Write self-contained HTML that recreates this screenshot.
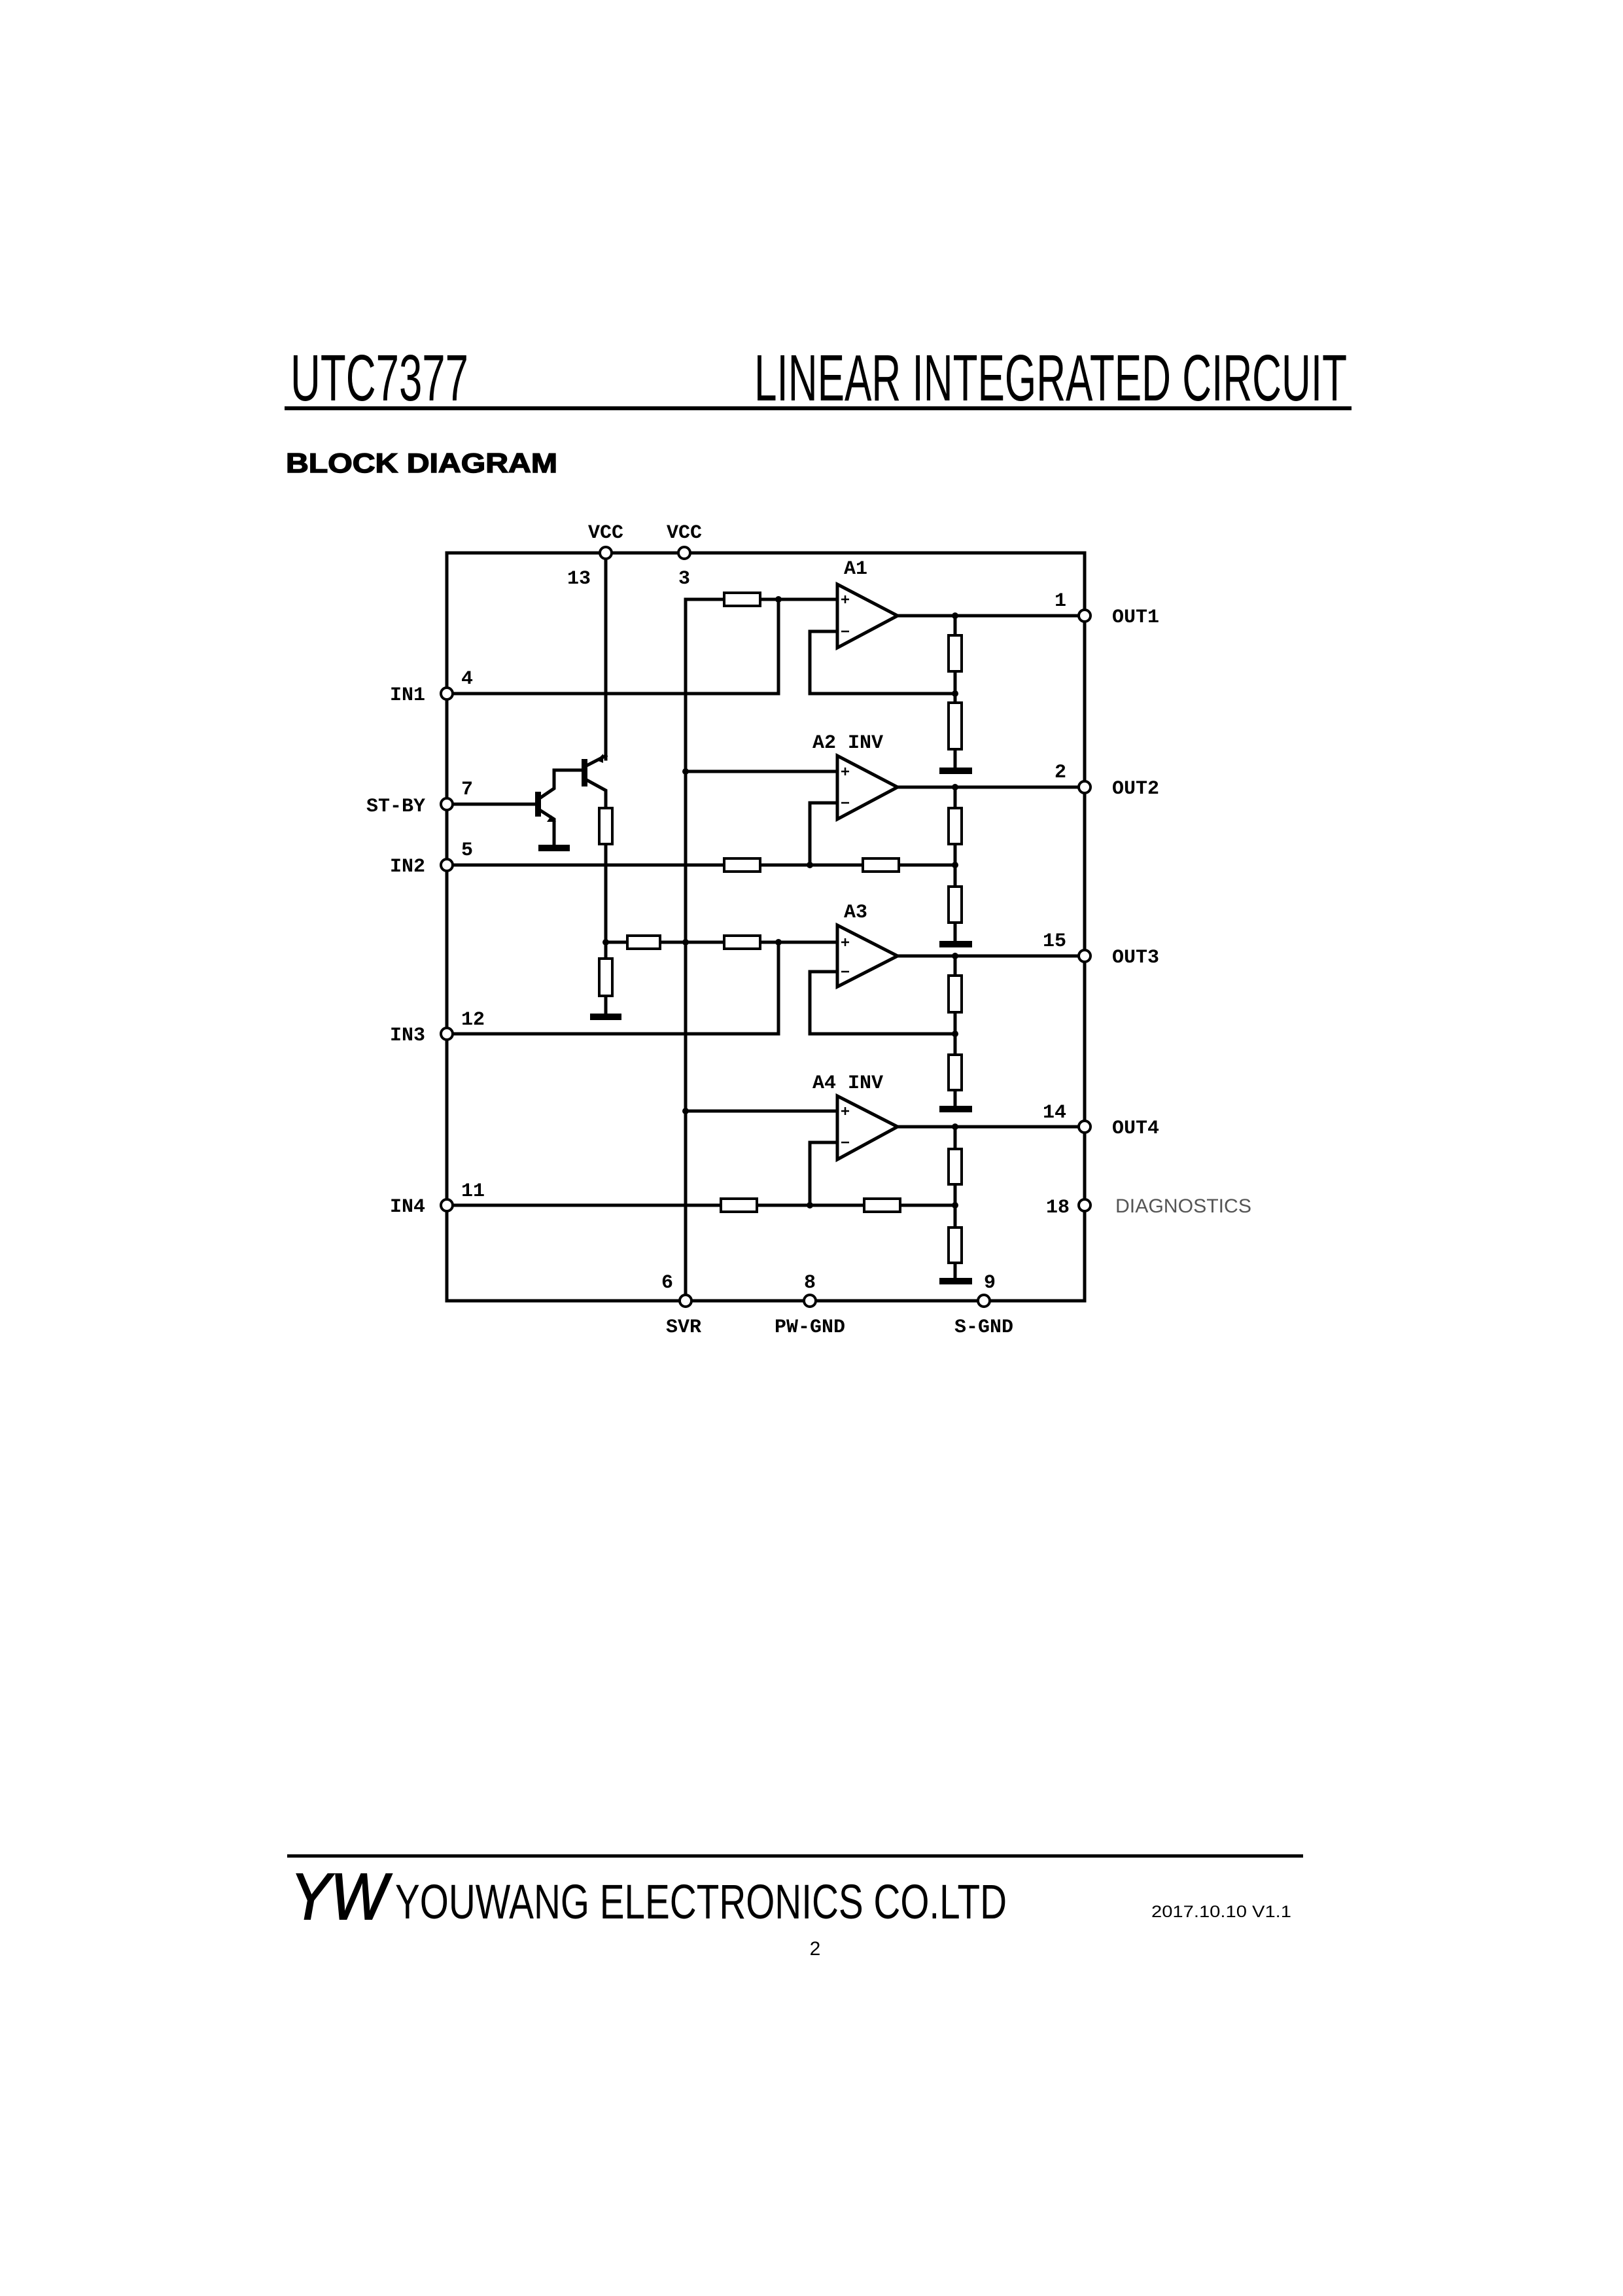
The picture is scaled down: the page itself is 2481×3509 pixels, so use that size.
<!DOCTYPE html>
<html><head><meta charset="utf-8"><style>html,body{margin:0;padding:0;background:#fff}svg{display:block}</style></head><body>
<svg width="2481" height="3509" viewBox="0 0 2481 3509" xmlns="http://www.w3.org/2000/svg">
<rect width="2481" height="3509" fill="#fff"/>
<!-- header -->
<text x="444" y="612" font-family="Liberation Sans, sans-serif" font-size="100" textLength="272" lengthAdjust="spacingAndGlyphs">UTC7377</text>
<text x="1153" y="612" font-family="Liberation Sans, sans-serif" font-size="100" textLength="906" lengthAdjust="spacingAndGlyphs">LINEAR INTEGRATED CIRCUIT</text>
<rect x="435" y="621" width="1631" height="6" fill="#000"/>
<text x="437" y="722" font-family="Liberation Sans, sans-serif" font-weight="bold" font-size="42" textLength="415" lengthAdjust="spacingAndGlyphs" stroke="#000" stroke-width="1.5">BLOCK DIAGRAM</text>

<g stroke="#000" stroke-width="5" fill="none" stroke-linecap="square">
<path d="M683 845 H1658 V1988 H683 Z"/>
<path d="M1048 916 V1988"/>
<path d="M926 845 V1160"/>
<path d="M1048 916 H1280 M1190 916 V1060 M683 1060 H1190 M1280 965 H1238 V1060 H1460 M1372 941 H1658 M1460 941 V1177"/>
<path d="M1048 1179 H1280 M1280 1227 H1238 V1322 M683 1322 H1460 M1372 1203 H1658 M1460 1203 V1442"/>
<path d="M683 1229 H822 M822 1222 L847 1205 V1177 H893 M822 1236 L847 1252 V1295 M893 1172 L926 1155 M893 1190 L926 1208 V1553"/>
<path d="M926 1440 H1280 M1190 1440 V1580 M683 1580 H1190 M1280 1485 H1238 V1580 H1460 M1372 1461 H1658 M1460 1461 V1694"/>
<path d="M1048 1698 H1280 M1280 1746 H1238 V1842 M683 1842 H1460 M1372 1722 H1658 M1460 1722 V1957"/>
</g>
<g fill="#000">
<rect x="818" y="1210" width="9" height="38"/>
<rect x="889" y="1160" width="9" height="42"/>
<polygon points="843,1246 850,1256 836,1256"/>
<polygon points="912,1162 922,1152 922,1166"/>
</g>
<g stroke="#000" stroke-width="5" fill="#fff">
<polygon points="1280,893 1372,941 1280,990"/>
<polygon points="1280,1155 1372,1203 1280,1252"/>
<polygon points="1280,1414 1372,1461 1280,1508"/>
<polygon points="1280,1675 1372,1722 1280,1772"/>
</g>
<g stroke="#000" stroke-width="2.5">
<path d="M1286 916 h12 M1292 910 v12 M1286 965 h12"/>
<path d="M1286 1179 h12 M1292 1173 v12 M1286 1227 h12"/>
<path d="M1286 1440 h12 M1292 1434 v12 M1286 1485 h12"/>
<path d="M1286 1698 h12 M1292 1692 v12 M1286 1746 h12"/>
</g>
<g stroke="#000" stroke-width="4" fill="#fff">
<rect x="1107" y="906" width="55" height="20"/>
<rect x="1107" y="1312" width="55" height="20"/>
<rect x="1319" y="1312" width="55" height="20"/>
<rect x="959" y="1430" width="50" height="20"/>
<rect x="1107" y="1430" width="55" height="20"/>
<rect x="1102" y="1832" width="55" height="20"/>
<rect x="1321" y="1832" width="55" height="20"/>
<rect x="1450" y="971" width="20" height="55"/>
<rect x="1450" y="1074" width="20" height="71"/>
<rect x="1450" y="1235" width="20" height="55"/>
<rect x="1450" y="1355" width="20" height="55"/>
<rect x="1450" y="1491" width="20" height="56"/>
<rect x="1450" y="1612" width="20" height="54"/>
<rect x="1450" y="1756" width="20" height="54"/>
<rect x="1450" y="1876" width="20" height="54"/>
<rect x="916" y="1235" width="20" height="55"/>
<rect x="916" y="1465" width="20" height="57"/>
</g>
<g fill="#000">
<rect x="1436" y="1173" width="50" height="10"/>
<rect x="1436" y="1438" width="50" height="10"/>
<rect x="1436" y="1690" width="50" height="10"/>
<rect x="1436" y="1953" width="50" height="10"/>
<rect x="823" y="1291" width="48" height="10"/>
<rect x="902" y="1549" width="48" height="10"/>
</g>
<g fill="#000">
<circle cx="1190" cy="916" r="5"/><circle cx="1460" cy="941" r="5"/><circle cx="1460" cy="1060" r="5"/>
<circle cx="1048" cy="1179" r="5"/><circle cx="1460" cy="1203" r="5"/><circle cx="1238" cy="1322" r="5"/><circle cx="1460" cy="1322" r="5"/>
<circle cx="926" cy="1440" r="5"/><circle cx="1048" cy="1440" r="5"/><circle cx="1190" cy="1440" r="5"/><circle cx="1460" cy="1461" r="5"/><circle cx="1460" cy="1580" r="5"/>
<circle cx="1048" cy="1698" r="5"/><circle cx="1460" cy="1722" r="5"/><circle cx="1238" cy="1842" r="5"/><circle cx="1460" cy="1842" r="5"/>
</g>
<g stroke="#000" stroke-width="4" fill="#fff">
<circle cx="926" cy="845" r="9"/><circle cx="1046" cy="845" r="9"/>
<circle cx="683" cy="1060" r="9"/><circle cx="683" cy="1229" r="9"/><circle cx="683" cy="1322" r="9"/><circle cx="683" cy="1580" r="9"/><circle cx="683" cy="1842" r="9"/>
<circle cx="1658" cy="941" r="9"/><circle cx="1658" cy="1203" r="9"/><circle cx="1658" cy="1461" r="9"/><circle cx="1658" cy="1722" r="9"/><circle cx="1658" cy="1842" r="9"/>
<circle cx="1048" cy="1988" r="9"/><circle cx="1238" cy="1988" r="9"/><circle cx="1504" cy="1988" r="9"/>
</g>
<g font-family="Liberation Mono, monospace" font-weight="bold" font-size="30" fill="#000">
<text x="926" y="822" text-anchor="middle">VCC</text>
<text x="1046" y="822" text-anchor="middle">VCC</text>
<text x="885" y="892" text-anchor="middle">13</text>
<text x="1046" y="892" text-anchor="middle">3</text>
<text x="1308" y="877" text-anchor="middle">A1</text>
<text x="1242" y="1143">A2 INV</text>
<text x="1308" y="1402" text-anchor="middle">A3</text>
<text x="1242" y="1663">A4 INV</text>
<text x="650" y="1070" text-anchor="end">IN1</text>
<text x="650" y="1240" text-anchor="end">ST-BY</text>
<text x="650" y="1332" text-anchor="end">IN2</text>
<text x="650" y="1590" text-anchor="end">IN3</text>
<text x="650" y="1852" text-anchor="end">IN4</text>
<text x="705" y="1045">4</text>
<text x="705" y="1214">7</text>
<text x="705" y="1307">5</text>
<text x="705" y="1566">12</text>
<text x="705" y="1828">11</text>
<text x="1630" y="926" text-anchor="end">1</text>
<text x="1630" y="1188" text-anchor="end">2</text>
<text x="1630" y="1446" text-anchor="end">15</text>
<text x="1630" y="1708" text-anchor="end">14</text>
<text x="1635" y="1853" text-anchor="end">18</text>
<text x="1700" y="951">OUT1</text>
<text x="1700" y="1213">OUT2</text>
<text x="1700" y="1471">OUT3</text>
<text x="1700" y="1732">OUT4</text>
<text x="1020" y="1968" text-anchor="middle">6</text>
<text x="1238" y="1968" text-anchor="middle">8</text>
<text x="1504" y="1968">9</text>
<text x="1045" y="2036" text-anchor="middle">SVR</text>
<text x="1238" y="2036" text-anchor="middle">PW-GND</text>
<text x="1504" y="2036" text-anchor="middle">S-GND</text>
</g>
<text x="1705" y="1853" font-family="Liberation Sans, sans-serif" font-size="30" fill="#555" textLength="208" lengthAdjust="spacingAndGlyphs">DIAGNOSTICS</text>

<rect x="439" y="2834" width="1553" height="5" fill="#000"/>
<text x="444" y="2933" font-family="Liberation Sans, sans-serif" font-style="italic" font-size="100" textLength="148" lengthAdjust="spacingAndGlyphs" stroke="#000" stroke-width="2">YW</text>
<text x="604" y="2932" font-family="Liberation Sans, sans-serif" font-size="74" textLength="935" lengthAdjust="spacingAndGlyphs">YOUWANG  ELECTRONICS  CO.LTD</text>
<text x="1760" y="2930" font-family="Liberation Sans, sans-serif" font-size="25" textLength="214" lengthAdjust="spacingAndGlyphs">2017.10.10   V1.1</text>
<text x="1246" y="2988" font-family="Liberation Sans, sans-serif" font-size="30" text-anchor="middle">2</text>
</svg>
</body></html>
